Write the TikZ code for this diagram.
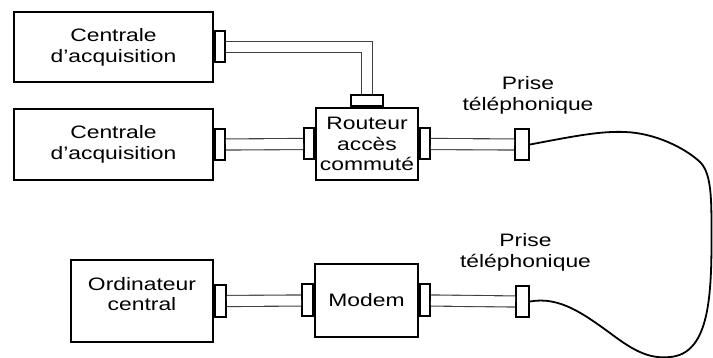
\documentclass[tikz,border=0pt]{standalone}
\usepackage{fontspec}
\setmainfont{Liberation Sans}[FakeStretch=1.27]
\usetikzlibrary{positioning}

\tikzset{
  box/.style={draw, line width=2pt, fill=white, align=center, inner sep=0pt,
    font=\fontsize{18}{20.7}\selectfont},
  plug/.style={draw, line width=2pt, fill=white, inner sep=0pt,
    minimum width=10pt, minimum height=31pt},
  cable/.style={draw=black!75, line width=1.1pt, double=white, double distance=10pt},
  cord/.style={line width=1.8pt},
  lbl/.style={align=center, inner sep=0pt, font=\fontsize{18}{20.7}\selectfont},
}

\begin{document}
\begin{tikzpicture}[x=1pt,y=-1pt]
\useasboundingbox (0,0) rectangle (713,358);
\clip (0,0) rectangle (713,358);

% equipment
\node[box, minimum width=199pt, minimum height=70pt] (acq1) at (113.5,47) {Centrale\\d’acquisition};
\node[box, minimum width=199pt, minimum height=71pt] (acq2) at (113.5,144.5) {Centrale\\d’acquisition};
\node[box, minimum width=102pt, minimum height=72pt] (rout) at (367,144) {Routeur\\accès\\commuté};
\node[box, minimum width=142pt, minimum height=82pt,
  label={[lbl,yshift=7pt]center:{Ordinateur\\central}}] (ordi) at (142,301) {};
\node[box, minimum width=103pt, minimum height=73pt] (modem) at (366.5,300.5) {Modem};

% plugs
\node[plug, anchor=west] (acq1p) at (acq1.east) {};
\node[plug, anchor=west] (acq2p) at (acq2.east) {};
\node[plug, anchor=east] (routl) at (rout.west) {};
\node[plug, anchor=west] (routr) at (rout.east) {};
\node[plug, anchor=south, minimum width=32pt, minimum height=11pt] (routt) at (rout.north) {};
\node[plug, minimum width=14pt] (prise1) at (522,144.5) {};
\node[plug, anchor=west, minimum width=11pt, minimum height=32pt] (ordip) at (ordi.east) {};
\node[plug, anchor=east, minimum width=11pt, minimum height=32pt] (modeml) at (modem.west) {};
\node[plug, anchor=west, minimum height=32pt] (modemr) at (modem.east) {};
\node[plug, minimum width=13pt] (prise2) at (522.5,301.5) {};

\node[lbl, above=14pt of prise1, xshift=6pt] (tel1) {Prise\\téléphonique};
\node[lbl, above=14pt of prise2, xshift=3pt] (tel2) {Prise\\téléphonique};

% cables
\draw[cable] (acq1p.east) -| (routt.north);
\draw[cable] (acq2p.east) -- (routl.west);
\draw[cable] (routr.east) -- (prise1.west);
\draw[cable] (ordip.east) -- (modeml.west);
\draw[cable] (modemr.east) -- (prise2.west);

% phone line
\draw[cord] (prise1.east) .. controls (575,136) and (600,131) .. (625,132)
  .. controls (655,133) and (685,148) .. (700,162)
  .. controls (712,174) and (711.5,200) .. (711.5,240)
  .. controls (711.5,300) and (708,354) .. (670,357)
  .. controls (650,359) and (635,352) .. (610,333)
  .. controls (585,315) and (560,296) .. (prise2.east);
\end{tikzpicture}
\end{document}
